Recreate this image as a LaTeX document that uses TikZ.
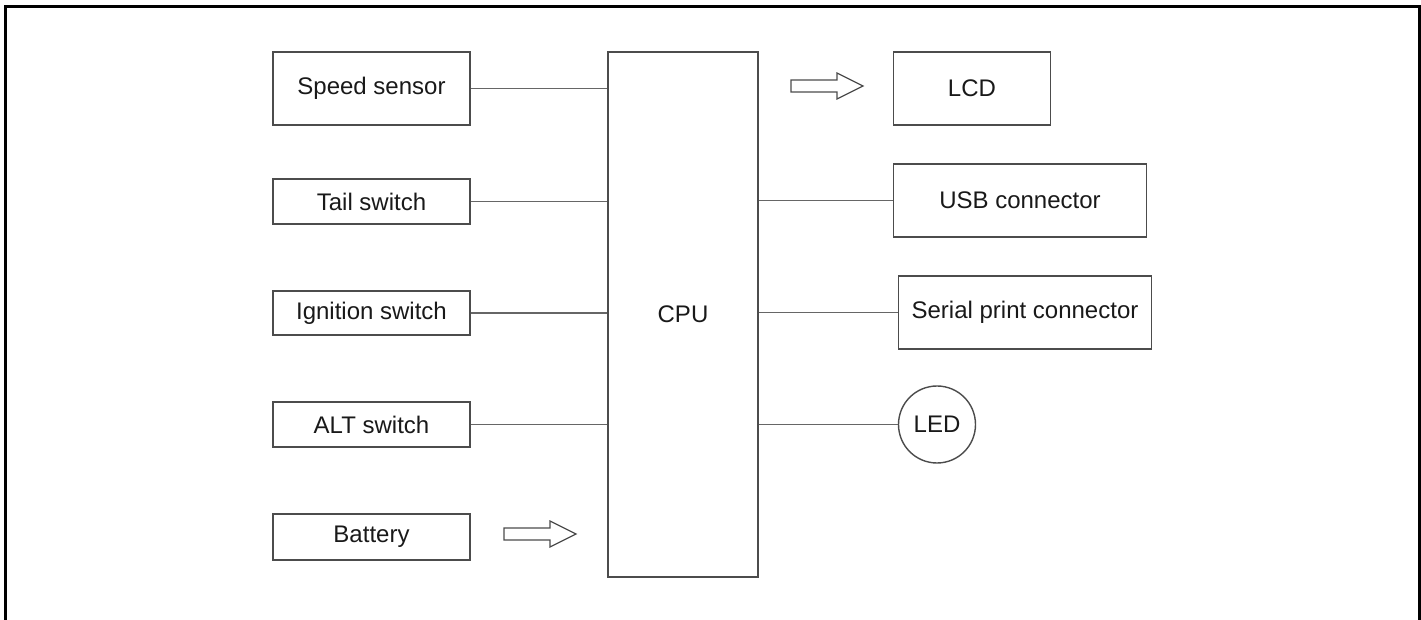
\documentclass[tikz,border=0pt]{standalone}
\usepackage{fontspec}
\setmainfont{Liberation Sans}
\tikzset{
  unit/.style={draw=black!70,line width=0.7pt,font=\fontsize{12}{14}\selectfont,text=black!90,inner sep=0pt},
  wire/.style={draw=black!60,line width=0.6pt},
  fatarrow/.pic={\draw[black!70,line width=0.6pt] (0,-6) -- (46,-6) -- (46,-13) -- (72,0) -- (46,13) -- (46,6) -- (0,6) -- cycle;}
}
\begin{document}
\begin{tikzpicture}[x=0.5pt,y=-0.5pt]
  \useasboundingbox (0,0) rectangle (1421,620);
  \draw[line width=1.5pt] (5,625) -- (5,7) -- (1419,7) -- (1419,625);
  \node[unit,minimum width=98.5pt,minimum height=36.5pt] (speed) at (371.5,88.5) {Speed sensor};
  \node[unit,minimum width=98.5pt,minimum height=22.5pt] (tail) at (371.5,201.5) {Tail switch};
  \node[unit,minimum width=98.5pt,minimum height=22pt] (ign) at (371.5,313) {Ignition switch};
  \node[unit,minimum width=98.5pt,minimum height=22.5pt] (alt) at (371.5,424.5) {ALT switch};
  \node[unit,minimum width=98.5pt,minimum height=23pt] (bat) at (371.5,537) {Battery};
  \node[unit,minimum width=75pt,minimum height=262.5pt] (cpu) at (683,314.5) {CPU};
  \node[unit,minimum width=78.75pt,minimum height=36.5pt] (lcd) at (972,88.5) {LCD};
  \node[unit,minimum width=126.75pt,minimum height=36.5pt] (usb) at (1020,200.5) {USB connector};
  \node[unit,minimum width=126.75pt,minimum height=36.5pt] (serial) at (1025,312.5) {Serial print connector};
  \node[unit,circle,minimum size=38.5pt] (led) at (937,424.5) {LED};
  \draw[wire] (speed.east) -- (speed.east -| cpu.west);
  \draw[wire] (tail.east) -- (tail.east -| cpu.west);
  \draw[wire] (ign.east) -- (ign.east -| cpu.west);
  \draw[wire] (alt.east) -- (alt.east -| cpu.west);
  \draw[wire] (usb.west -| cpu.east) -- (usb.west);
  \draw[wire] (serial.west -| cpu.east) -- (serial.west);
  \draw[wire] (led.west -| cpu.east) -- (led.west);
  \pic at (791,86) {fatarrow};
  \pic at (504,534) {fatarrow};
\end{tikzpicture}
\end{document}
